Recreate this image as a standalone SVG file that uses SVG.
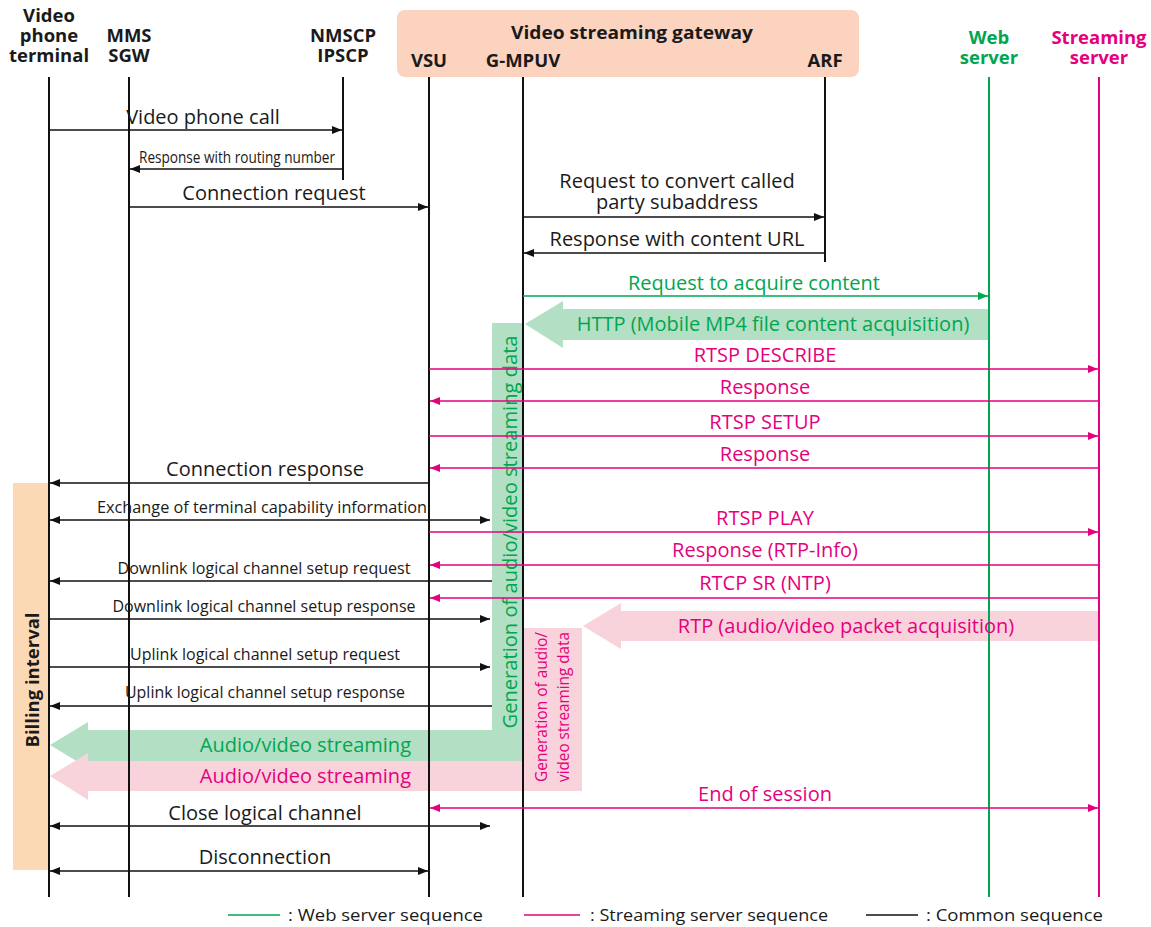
<svg xmlns="http://www.w3.org/2000/svg" width="1151" height="927" viewBox="0 0 1151 927">
<style>
text{font-family:"Open Sans","Noto Sans","Liberation Sans",sans-serif;fill:#1a1a1a}
.h{font-size:18.5px;font-weight:bold;text-anchor:middle}
.m{font-size:20px;text-anchor:middle}
.s{font-size:16.5px;text-anchor:middle}
.g{fill:#00a650}
.p{fill:#e5007e}
.ll{stroke:#111;stroke-width:2;fill:none}
.lg{stroke:#00a650;stroke-width:2;fill:none}
.lp{stroke:#e5007e;stroke-width:2;fill:none}
.k{stroke:#111;stroke-width:1.3;fill:none;marker-end:url(#ak)}
.kb{stroke:#111;stroke-width:1.3;fill:none;marker-end:url(#ak);marker-start:url(#ak)}
.gr{stroke:#00a650;stroke-width:1.3;fill:none;marker-end:url(#ag)}
.pk{stroke:#e5007e;stroke-width:1.3;fill:none;marker-end:url(#ap)}
.pkb{stroke:#e5007e;stroke-width:1.3;fill:none;marker-end:url(#ap);marker-start:url(#ap)}
.fg{fill:#b3dfc5}
.fp{fill:#f9d3dc}
</style>
<defs>
<marker id="ak" markerUnits="userSpaceOnUse" markerWidth="10" markerHeight="8" refX="10" refY="4" orient="auto-start-reverse"><path d="M0,0L10,4L0,8z" fill="#111"/></marker>
<marker id="ag" markerUnits="userSpaceOnUse" markerWidth="10" markerHeight="8" refX="10" refY="4" orient="auto-start-reverse"><path d="M0,0L10,4L0,8z" fill="#00a650"/></marker>
<marker id="ap" markerUnits="userSpaceOnUse" markerWidth="10" markerHeight="8" refX="10" refY="4" orient="auto-start-reverse"><path d="M0,0L10,4L0,8z" fill="#e5007e"/></marker>
</defs>

<!-- background bands -->
<g id="billing">
<rect x="13" y="483" width="35" height="387" fill="#fcd9b5"/>
<text transform="translate(39,680) rotate(-90)" class="h" textLength="135" lengthAdjust="spacingAndGlyphs">Billing interval</text>
</g>
<g id="gateway">
<rect x="397" y="10" width="462" height="67" rx="8" fill="#fbd3bf"/>
<text x="632" y="39" class="h" textLength="242" lengthAdjust="spacingAndGlyphs">Video streaming gateway</text>
</g>

<g id="bands">
<path class="fg" d="M492,323H523V761H88V768L50,745L88,722V730H492Z"/>
<path class="fp" d="M524,628H582V791H88V800L50,776L88,753V761H524Z"/>
<path class="fg" d="M989,309V340H563V348L525,324L563,301V309Z"/>
<path class="fp" d="M1099,611V641H621V649L583,626L621,603V611Z"/>
</g>

<!-- lifelines / nodes -->
<g id="n-terminal"><text class="h" x="49" y="22">Video</text><text class="h" x="49" y="42">phone</text><text class="h" x="49" y="62">terminal</text><line class="ll" x1="49" y1="77" x2="49" y2="897"/></g>
<g id="n-mms"><text class="h" x="129" y="42">MMS</text><text class="h" x="129" y="62">SGW</text><line class="ll" x1="129" y1="77" x2="129" y2="897"/></g>
<g id="n-nmscp"><text class="h" x="343" y="42">NMSCP</text><text class="h" x="343" y="62">IPSCP</text><line class="ll" x1="343" y1="77" x2="343" y2="180"/></g>
<g id="n-vsu"><text class="h" x="429" y="67">VSU</text><line class="ll" x1="429" y1="77" x2="429" y2="897"/></g>
<g id="n-gmpuv"><text class="h" x="523" y="67">G-MPUV</text><line class="ll" x1="523" y1="77" x2="523" y2="897"/></g>
<g id="n-arf"><text class="h" x="825" y="67">ARF</text><line class="ll" x1="825" y1="77" x2="825" y2="262"/></g>
<g id="n-web"><text class="h g" x="989" y="44">Web</text><text class="h g" x="989" y="64">server</text><line class="lg" x1="989" y1="77" x2="989" y2="897"/></g>
<g id="n-stream"><text class="h p" x="1099" y="44">Streaming</text><text class="h p" x="1099" y="64">server</text><line class="lp" x1="1099" y1="77" x2="1099" y2="897"/></g>

<!-- band labels -->
<g id="band-labels">
<text class="m g" transform="translate(517,532) rotate(-90)" textLength="393" lengthAdjust="spacingAndGlyphs">Generation of audio/video streaming data</text>
<text class="s p" transform="translate(547,707) rotate(-90)" textLength="150" lengthAdjust="spacingAndGlyphs">Generation of audio/</text>
<text class="s p" transform="translate(569,707) rotate(-90)" textLength="150" lengthAdjust="spacingAndGlyphs">video streaming data</text>
<text class="m g" x="773" y="331">HTTP (Mobile MP4 file content acquisition)</text>
<text class="m p" x="846" y="633">RTP (audio/video packet acquisition)</text>
<text class="m g" x="411" y="752" style="text-anchor:end">Audio/video streaming</text>
<text class="m p" x="411" y="783" style="text-anchor:end">Audio/video streaming</text>
</g>

<!-- connectors -->
<g id="connectors">
<line class="k" x1="49" y1="130" x2="342" y2="130"/>
<text class="m" x="203" y="124">Video phone call</text>
<line class="k" x1="343" y1="169" x2="130" y2="169"/>
<text class="s" x="237" y="163" textLength="196" lengthAdjust="spacingAndGlyphs">Response with routing number</text>
<line class="k" x1="129" y1="207" x2="428" y2="207"/>
<text class="m" x="274" y="200">Connection request</text>
<line class="k" x1="523" y1="217" x2="824" y2="217"/>
<text class="m" x="677" y="188">Request to convert called</text>
<text class="m" x="677" y="209">party subaddress</text>
<line class="k" x1="825" y1="253" x2="524" y2="253"/>
<text class="m" x="677" y="246">Response with content URL</text>
<line class="gr" x1="523" y1="296" x2="988" y2="296"/>
<text class="m g" x="754" y="290">Request to acquire content</text>

<line class="pk" x1="429" y1="369" x2="1098" y2="369"/>
<text class="m p" x="765" y="362">RTSP DESCRIBE</text>
<line class="pk" x1="1099" y1="401" x2="430" y2="401"/>
<text class="m p" x="765" y="394">Response</text>
<line class="pk" x1="429" y1="436" x2="1098" y2="436"/>
<text class="m p" x="765" y="429">RTSP SETUP</text>
<line class="pk" x1="1099" y1="468" x2="430" y2="468"/>
<text class="m p" x="765" y="461">Response</text>

<line class="k" x1="429" y1="483" x2="50" y2="483"/>
<text class="m" x="265" y="476">Connection response</text>
<line class="kb" x1="50" y1="520" x2="490" y2="520"/>
<text class="s" x="262" y="513" textLength="330" lengthAdjust="spacingAndGlyphs">Exchange of terminal capability information</text>
<line class="pk" x1="429" y1="532" x2="1098" y2="532"/>
<text class="m p" x="765" y="525">RTSP PLAY</text>
<line class="pk" x1="1099" y1="565" x2="430" y2="565"/>
<text class="m p" x="765" y="557">Response (RTP-Info)</text>
<line class="k" x1="492" y1="581" x2="50" y2="581"/>
<text class="s" x="264" y="574" textLength="293" lengthAdjust="spacingAndGlyphs">Downlink logical channel setup request</text>
<line class="pk" x1="1099" y1="598" x2="430" y2="598"/>
<text class="m p" x="765" y="590">RTCP SR (NTP)</text>
<line class="k" x1="49" y1="619" x2="490" y2="619"/>
<text class="s" x="264" y="612" textLength="303" lengthAdjust="spacingAndGlyphs">Downlink logical channel setup response</text>
<line class="k" x1="49" y1="667" x2="490" y2="667"/>
<text class="s" x="265" y="660" textLength="270" lengthAdjust="spacingAndGlyphs">Uplink logical channel setup request</text>
<line class="k" x1="492" y1="706" x2="50" y2="706"/>
<text class="s" x="265" y="698" textLength="280" lengthAdjust="spacingAndGlyphs">Uplink logical channel setup response</text>

<line class="pkb" x1="430" y1="808" x2="1098" y2="808"/>
<text class="m p" x="765" y="801">End of session</text>
<line class="kb" x1="50" y1="826" x2="490" y2="826"/>
<text class="m" x="265" y="820">Close logical channel</text>
<line class="kb" x1="50" y1="871" x2="428" y2="871"/>
<text class="m" x="265" y="864">Disconnection</text>
</g>

<!-- legend -->
<g id="legend">
<line x1="228" y1="915" x2="280" y2="915" stroke="#00a650" stroke-width="1.5"/>
<text x="288" y="921" style="font-size:17px" textLength="195" lengthAdjust="spacingAndGlyphs">: Web server sequence</text>
<line x1="524" y1="915" x2="580" y2="915" stroke="#e5007e" stroke-width="1.5"/>
<text x="590" y="921" style="font-size:17px" textLength="238" lengthAdjust="spacingAndGlyphs">: Streaming server sequence</text>
<line x1="866" y1="915" x2="918" y2="915" stroke="#111" stroke-width="1.5"/>
<text x="926" y="921" style="font-size:17px" textLength="177" lengthAdjust="spacingAndGlyphs">: Common sequence</text>
</g>
</svg>
